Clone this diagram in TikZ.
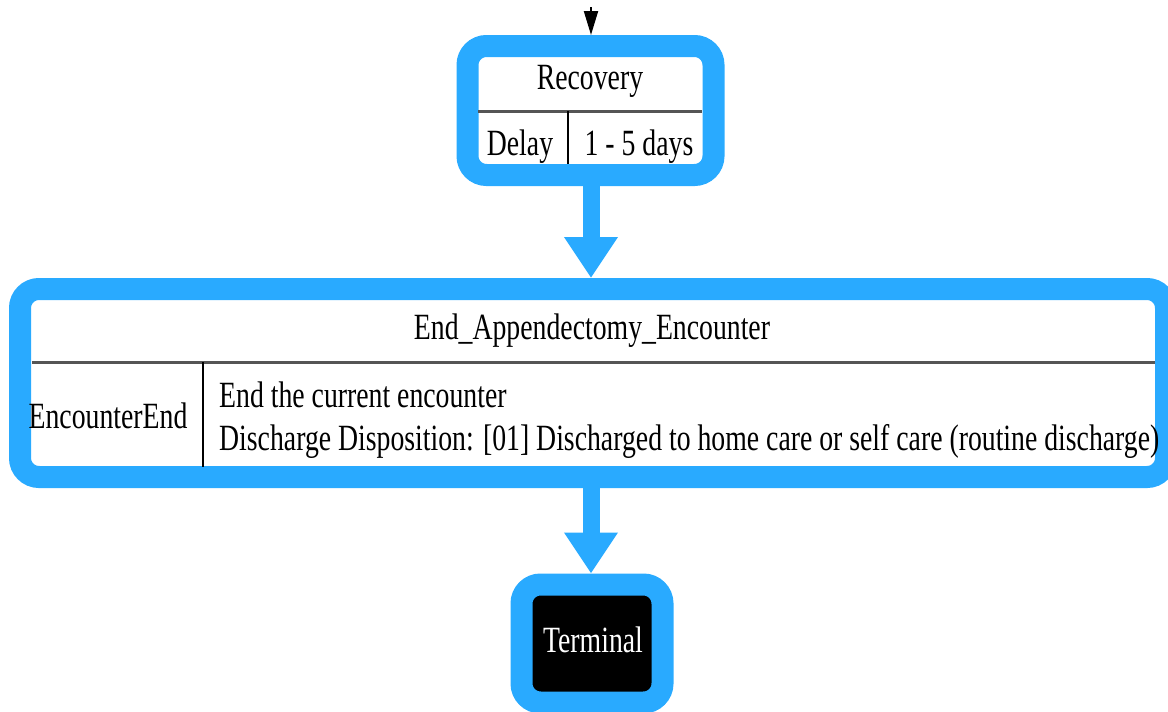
\documentclass[tikz,border=0pt]{standalone}
\usepackage{fontspec}
\setmainfont{Liberation Serif}[FakeStretch=0.75]
\usetikzlibrary{positioning}
\usetikzlibrary{arrows.meta}
\definecolor{stateblue}{RGB}{41,170,255}
\definecolor{rulegray}{RGB}{85,85,85}
\tikzset{
    statenode/.style = {rectangle, rounded corners=19pt, line width=22pt, draw=stateblue, fill=white, inner sep=0pt},
    termnode/.style = {rectangle, rounded corners=19pt, line width=22pt, draw=stateblue, fill=black, inner sep=0pt},
    celltext/.style = {inner sep=0pt, anchor=base, text=black},
    rowline/.style = {line width=3pt, rulegray},
    colline/.style = {line width=1.5pt, black},
    edgeb/.style = {line width=17pt, stateblue, -{Triangle[length=41pt,width=51pt]}},
    edgek/.style = {line width=2pt, black, -{Triangle[length=24pt,width=14pt]}}
}

\begin{document}
\begin{tikzpicture}[x=1pt, y=-1pt, font=\fontsize{37}{43}\selectfont]
    \useasboundingbox (0,0) rectangle (1168,712);
    \clip (0,0) rectangle (1168,712);

    % states
    \node[statenode, minimum width=246pt, minimum height=129pt] (recovery) at (590.5,110.5) {};
    \node[statenode, minimum width=1146pt, minimum height=188pt] (endenc) at (593,383) {};
    \node[termnode, minimum width=141pt, minimum height=118pt] (terminal) at (592,643.5) {};

    % Recovery table
    \node[celltext] (rectitle) at (590,89) {Recovery};
    \draw[rowline] (478,111) -- (702,111);
    \draw[colline] (568,111) -- (568,164);
    \node[celltext] (recdelay) at (520,155) {Delay};
    \node[celltext] (recdays) at (639,155) {1 - 5 days};

    % End_Appendectomy_Encounter table
    \node[celltext] (endtitle) at (592,339) {End\_Appendectomy\_Encounter};
    \draw[rowline] (32,362) -- (1155,362);
    \draw[colline] (203,362) -- (203,467);
    \node[celltext] (endtype) at (108,428) {EncounterEnd};
    \node[celltext, anchor=base west] (enddesc1) at (219,407) {End the current encounter};
    \node[celltext, anchor=base west] (enddesc2) at (219,450) {Discharge Disposition: [01] Discharged to home care or self care (routine discharge)};

    \node[celltext, text=white] (termtext) at (593,652) {Terminal};

    % transitions
    \coordinate (start) at (591,7);
    \draw[edgek] (start) -- (recovery.north -| start);
    \draw[edgeb] (recovery.south -| start) -- (endenc.north -| start);
    \draw[edgeb] (endenc.south -| start) -- (terminal.north -| start);

\end{tikzpicture}
\end{document}
